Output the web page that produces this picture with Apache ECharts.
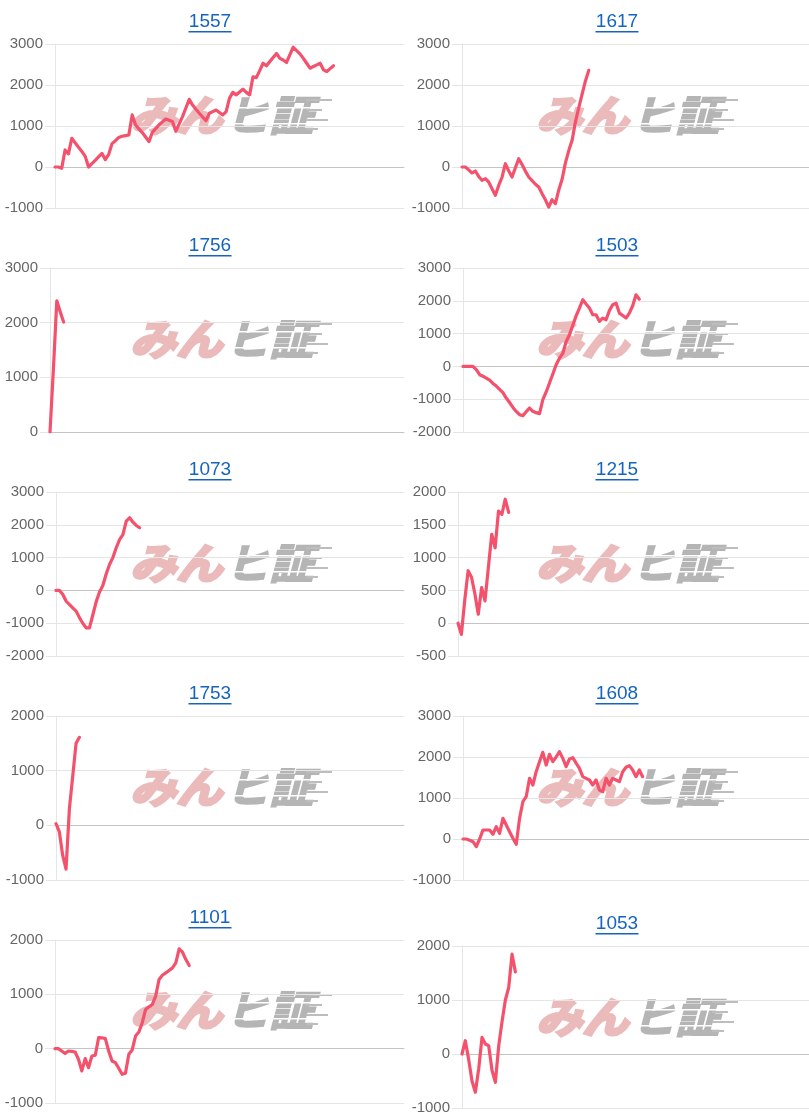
<!DOCTYPE html>
<html>
<head>
<meta charset="utf-8">
<script src="https://cdn.jsdelivr.net/npm/echarts@6/dist/echarts.min.js"></script>
<style>
html,body{margin:0;padding:0;background:#fff;}
#main{width:809px;height:1120px;}
</style>
</head>
<body>
<div id="main"></div>
<script>
// ---- data ----
const titles = ['1557','1617','1756','1503','1073','1215','1753','1608','1101','1053'];
const N_SLOTS = 105;
const xCats = Array.from({length: N_SLOTS}, (_, i) => String(i));

const s1557 = [0,0,-30,415,320,700,590,480,380,260,0,80,160,250,330,180,310,570,640,720,750,765,780,1270,1030,930,840,730,620,840,935,1030,1100,1170,1140,1110,870,1050,1230,1440,1650,1510,1410,1310,1220,1130,1310,1350,1390,1330,1270,1350,1680,1820,1760,1830,1900,1820,1760,2200,2180,2350,2530,2470,2570,2670,2770,2650,2610,2550,2740,2920,2840,2760,2650,2530,2410,2450,2490,2530,2370,2330,2400,2470];
const s1617 = [0,0,-70,-146,-98,-230,-325,-285,-366,-530,-691,-450,-250,81,-98,-244,-20,203,60,-100,-244,-330,-420,-488,-650,-800,-976,-797,-894,-560,-300,100,400,650,1100,1450,1780,2100,2358];
const s1756 = [0,1150,2400,2200,2010];
const s1503 = [0,0,0,0,-100,-254,-300,-356,-420,-520,-600,-700,-800,-965,-1100,-1250,-1372,-1473,-1500,-1380,-1270,-1370,-1410,-1440,-1016,-780,-508,-230,50,250,400,750,965,1250,1540,1778,2032,1900,1778,1575,1575,1372,1473,1422,1700,1880,1930,1625,1550,1473,1625,1850,2184,2050];
const s1073 = [0,0,-120,-325,-430,-530,-630,-830,-1000,-1140,-1140,-750,-350,-50,150,500,790,1000,1300,1550,1700,2110,2215,2080,1980,1910];
const s1215 = [0,-170,350,800,700,450,137,543,340,850,1356,1150,1710,1660,1890,1690];
const s1753 = [30,-120,-550,-800,300,900,1500,1610];
const s1608 = [0,0,-30,-65,-187,0,220,220,220,114,300,138,504,341,179,20,-130,504,910,1032,1480,1317,1642,1886,2114,1805,2065,1886,2000,2130,1967,1764,1951,1984,1850,1724,1520,1480,1439,1317,1439,1195,1154,1480,1317,1480,1440,1398,1642,1750,1789,1683,1520,1683,1520];
const s1101 = [0,0,-43,-86,-43,-50,-61,-196,-410,-184,-349,-135,-120,202,200,184,-43,-226,-257,-360,-471,-453,-104,-24,233,306,477,722,770,814,967,1273,1350,1395,1440,1487,1579,1836,1775,1640,1530];
const s1053 = [0,246,-100,-500,-708,-277,308,185,154,-300,-524,150,600,1000,1232,1848,1520];

const seriesData = [s1557,s1617,s1756,s1503,s1073,s1215,s1753,s1608,s1101,s1053];
const yMin = [-1000,-1000,0,-2000,-2000,-500,-1000,-1000,-1000,-1000];
const yMax = [3000,3000,3000,3000,3000,2000,2000,3000,2000,2000];
const yStep = [1000,1000,1000,1000,1000,500,1000,1000,1000,1000];

// ---- layout ----
const axisLeft = [55,462,50,463,56,458,56,463,55,462];
const gridTop  = [44,44,268,268,492,492,716,716,940,946];
const gridH    = [164,164,164,164,164,164,164,164,163,162];
const titleY   = [22,22,246,246,470,470,694,694,918,924];
const logoY    = [115,115,339,339,563,563,787,787,1010,1017];

const LINE_COLOR = '#f4516c';
const GRID_COLOR = '#e5e5e5';

const grids = [], xAxes = [], yAxes = [], series = [], graphics = [];

function logo(cx, cy) {
  const els = [];
  const PINK = '#ebbaba', GRAY = '#b5b5b5';
  els.push({
    type: 'text', z: -5, x: cx - 100, y: cy, silent: true, scaleX: 1.1,
    style: { text: 'みん', fill: PINK, stroke: PINK, lineWidth: 3, font: 'italic bold 42px "Noto Sans CJK JP"', textVerticalAlign: 'middle', textAlign: 'left' }
  });
  els.push({
    type: 'text', z: -5, x: cx - 5, y: cy, silent: true, scaleX: 1.05,
    style: { text: 'ヒ証', fill: GRAY, stroke: GRAY, lineWidth: 1.5, font: 'italic bold 42px "Noto Sans CJK JP"', textVerticalAlign: 'middle', textAlign: 'left' }
  });
  // speed stripes
  [-8, 8].forEach((dy) => {
    els.push({ type: 'rect', z: -4, silent: true, shape: { x: cx, y: cy + dy, width: 96, height: 1.5 }, style: { fill: '#ffffff' } });
  });
  [[-16, 26], [-6, 16], [4, 22], [13, 12]].forEach(([dy, w]) => {
    els.push({ type: 'rect', z: -5, silent: true, shape: { x: cx + 76, y: cy + dy, width: w, height: 2 }, style: { fill: '#bdbdbd' } });
  });
  return els;
}

for (let i = 0; i < 10; i++) {
  const col = i % 2;
  const rightEdge = col === 0 ? 404 : 809;
  grids.push({ left: axisLeft[i], top: gridTop[i], width: rightEdge - axisLeft[i], height: gridH[i] });
  xAxes.push({
    gridIndex: i, type: 'category', data: xCats, boundaryGap: false,
    axisLabel: { show: false }, axisTick: { show: false },
    axisLine: { show: true, onZero: true, lineStyle: { color: '#c4c4c4', width: 1 } },
    splitLine: { show: false }
  });
  yAxes.push({
    gridIndex: i, type: 'value', min: yMin[i], max: yMax[i], interval: yStep[i],
    axisLine: { show: true, lineStyle: { color: GRID_COLOR } },
    axisTick: { show: true, length: 10, lineStyle: { color: GRID_COLOR } },
    axisLabel: { color: '#666', fontSize: 15, margin: 12, fontFamily: 'Liberation Sans', formatter: v => String(v) },
    splitLine: { show: true, lineStyle: { color: GRID_COLOR, width: 1 } }
  });
  series.push({
    type: 'line', xAxisIndex: i, yAxisIndex: i, data: seriesData[i],
    symbol: 'none', smooth: false, z: 5,
    lineStyle: { color: LINE_COLOR, width: 3.2, join: 'round', cap: 'round' },
    itemStyle: { color: LINE_COLOR }
  });
  const tx = col === 0 ? 210 : 617;
  graphics.push({
    type: 'text', x: tx, y: titleY[i],
    style: { text: titles[i], fill: '#1565c0', font: '19px "Liberation Sans"', textAlign: 'center', textVerticalAlign: 'middle' }
  });
  graphics.push({
    type: 'rect', shape: { x: tx - 21.5, y: titleY[i] + 9, width: 43, height: 1.5 }, style: { fill: '#1565c0' }
  });
  const lx = col === 0 ? 230 : 636;
  logo(lx, logoY[i]).forEach(e => graphics.push(e));
}

const chart = echarts.init(document.getElementById('main'), null, { renderer: 'canvas' });
chart.setOption({
  animation: false,
  backgroundColor: '#fff',
  grid: grids, xAxis: xAxes, yAxis: yAxes, series: series,
  graphic: { elements: graphics }
});
</script>
</body>
</html>
